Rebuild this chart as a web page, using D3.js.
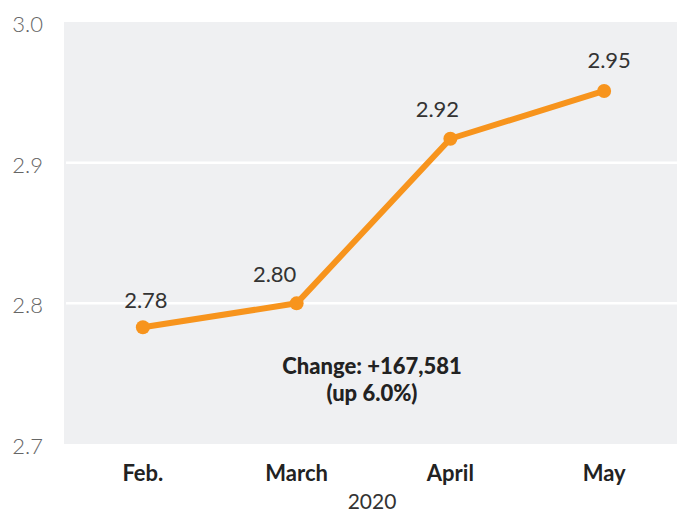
<!DOCTYPE html>
<html>
<head>
<meta charset="utf-8">
<script src="https://cdn.jsdelivr.net/npm/d3@7"></script>
<style>
  body { margin: 0; background: #fff; }
  svg text { font-family: Lato, "Open Sans", sans-serif; }
</style>
</head>
<body>
<div id="chart"></div>
<script>
// 資料
const months = ['Feb.', 'March', 'April', 'May'];
const values = [2.783, 2.800, 2.917, 2.951];
const valueLabels = ['2.78', '2.80', '2.92', '2.95'];
const yTicks = [2.7, 2.8, 2.9, 3.0];

const width = 677, height = 512;
const plot = { left: 64, right: 677, top: 22, bottom: 444 };

const svg = d3.select('#chart').append('svg')
    .attr('width', width)
    .attr('height', height);

const x = d3.scalePoint()
    .domain(months)
    .range([66, 681])
    .padding(0.5);

const y = d3.scaleLinear()
    .domain([2.7, 3.0])
    .range([plot.bottom, plot.top]);

// 背景
svg.append('rect')
    .attr('x', plot.left).attr('y', plot.top)
    .attr('width', plot.right - plot.left)
    .attr('height', plot.bottom - plot.top)
    .attr('fill', '#eff0f2');

// 格線
svg.selectAll('.grid')
    .data(yTicks.filter(t => t > 2.7 && t < 3.0))
    .enter().append('line')
    .attr('x1', plot.left + 2).attr('x2', plot.right)
    .attr('y1', d => y(d)).attr('y2', d => y(d))
    .attr('stroke', '#fff').attr('stroke-width', 2.5);

// y 軸標籤
svg.selectAll('.ytick')
    .data(yTicks)
    .enter().append('text')
    .attr('x', 43)
    .attr('y', d => y(d) + 10)
    .attr('text-anchor', 'end')
    .attr('font-size', 22)
    .attr('font-weight', 300)
    .attr('fill', '#666')
    .text(d => d.toFixed(1));

// x 軸標籤
svg.selectAll('.xtick')
    .data(months)
    .enter().append('text')
    .attr('x', d => x(d))
    .attr('y', 481)
    .attr('text-anchor', 'middle')
    .attr('font-size', 22)
    .attr('font-weight', 700)
    .attr('fill', '#222')
    .text(d => d);

svg.append('text')
    .attr('x', 372)
    .attr('y', 509)
    .attr('text-anchor', 'middle')
    .attr('font-size', 21)
    .attr('fill', '#333')
    .text('2020');

// 折線
const line = d3.line()
    .x((d, i) => x(months[i]))
    .y(d => y(d));

svg.append('path')
    .datum(values)
    .attr('d', line)
    .attr('fill', 'none')
    .attr('stroke', '#f7941d')
    .attr('stroke-width', 6)
    .attr('stroke-linejoin', 'round');

svg.selectAll('.dot')
    .data(values)
    .enter().append('circle')
    .attr('cx', (d, i) => x(months[i]))
    .attr('cy', d => y(d))
    .attr('r', 7)
    .attr('fill', '#f7941d');

// 數值標籤 (手動微調位置，避開線條)
const nudge = [[3, -19], [-22, -21], [-13, -22], [5, -23]];
svg.selectAll('.vlabel')
    .data(values)
    .enter().append('text')
    .attr('x', (d, i) => x(months[i]) + nudge[i][0])
    .attr('y', (d, i) => y(d) + nudge[i][1])
    .attr('text-anchor', 'middle')
    .attr('font-size', 22)
    .attr('font-weight', 400)
    .attr('fill', '#333')
    .text((d, i) => valueLabels[i]);

// 註解
const note = svg.append('text')
    .attr('text-anchor', 'middle')
    .attr('font-size', 22)
    .attr('font-weight', 900)
    .attr('fill', '#222');
note.append('tspan').attr('x', 372).attr('y', 374).text('Change: +167,581');
note.append('tspan').attr('x', 372).attr('y', 401).text('(up 6.0%)');
</script>
</body>
</html>
